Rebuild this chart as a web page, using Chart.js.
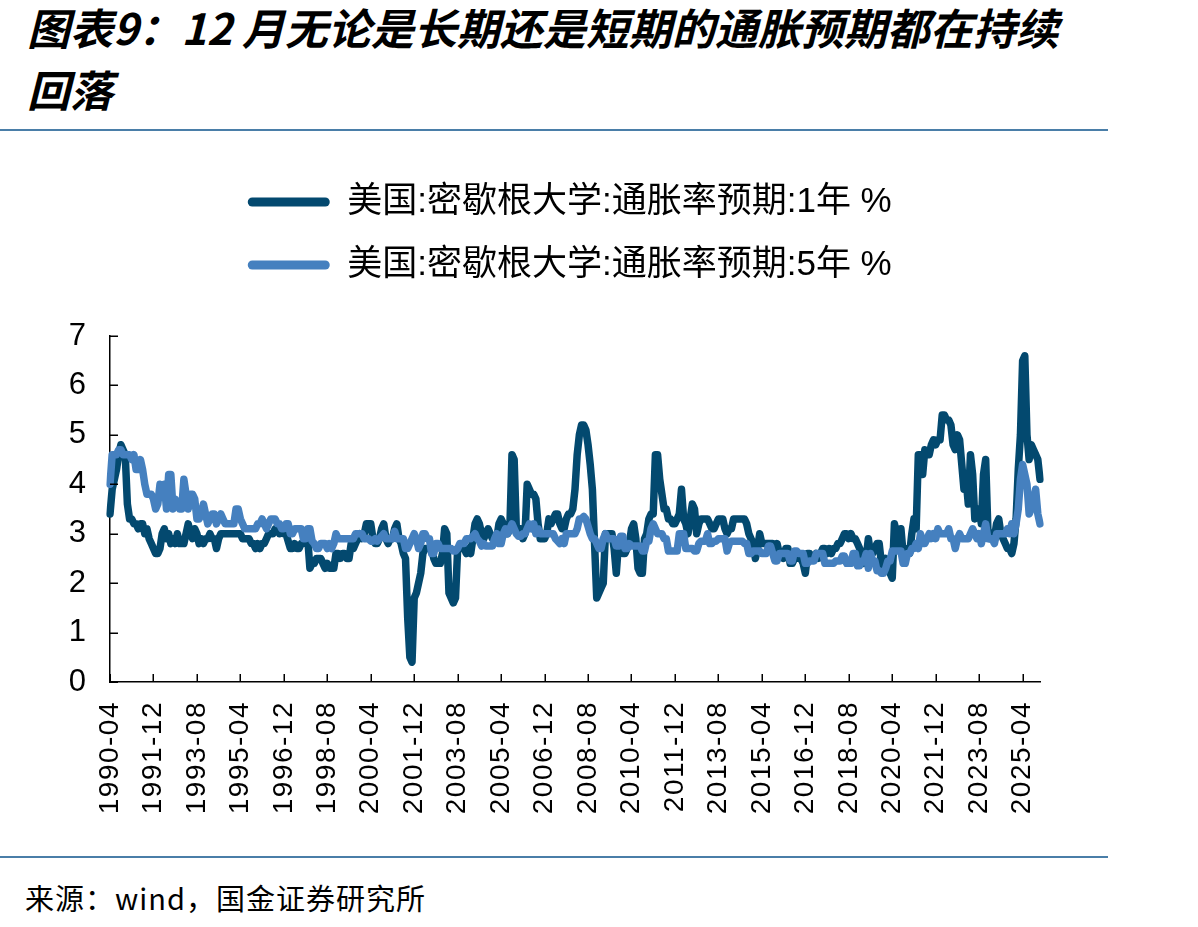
<!DOCTYPE html>
<html>
<head>
<meta charset="utf-8">
<script src="https://cdn.jsdelivr.net/npm/chart.js@4.4.1/dist/chart.umd.min.js"></script>
<style>
  html, body { margin: 0; padding: 0; background: #fff; }
  body { width: 1198px; height: 927px; position: relative; overflow: hidden; font-family: "Noto Sans CJK SC", sans-serif; }
  #title { position: absolute; left: 27px; top: -5px; font-size: 43px; line-height: 62px; font-weight: 700; font-style: italic; color: #000; white-space: nowrap; }
  .sep { position: absolute; left: 0; width: 1108px; height: 2px; background: #4a7ea8; }
  #footer { position: absolute; left: 25px; top: 879px; font-size: 29px; line-height: 36px; letter-spacing: 1px; color: #000; white-space: nowrap; }
  #wrap { position: absolute; left: 0; top: 140px; width: 1198px; height: 710px; }
</style>
</head>
<body>
<div id="title">图表9：12 月无论是长期还是短期的通胀预期都在持续<br>回落</div>
<div class="sep" style="top:129px"></div>
<div id="wrap"><canvas id="c"></canvas></div>
<div class="sep" style="top:856px"></div>
<div id="footer">来源：wind，国金证券研究所</div>
<script>
// ---- categories: monthly, 1990-04 .. 2025-12 ----
const START = [1990, 4];
const END = [2025, 12];
const MONTHS = [];
for (let y = START[0], m = START[1]; y < END[0] || (y === END[0] && m <= END[1]); ) {
  MONTHS.push(y + '-' + String(m).padStart(2, '0'));
  m++; if (m > 12) { m = 1; y++; }
}

// ---- tick labels shown on the x axis ----
const TICK_LABELS = ['1990-04','1991-12','1993-08','1995-04','1996-12','1998-08','2000-04','2001-12',
  '2003-08','2005-04','2006-12','2008-08','2010-04','2011-12','2013-08','2015-04','2016-12',
  '2018-08','2020-04','2021-12','2023-08','2025-04'];

// ---- 1-year inflation expectations (%), one row per year ----
const EXP_1Y = [
  3.4, 3.9, 4.1, 4.3, 4.6, 4.8, 4.7, 4.6, 3.6,                    // 1990 Apr-Dec
  3.3, 3.3, 3.2, 3.2, 3.1, 3.2, 3.2, 3.0, 3.1, 2.9, 2.8, 2.7,      // 1991
  2.6, 2.6, 2.7, 3.0, 3.1, 2.9, 3.0, 2.8, 2.9, 2.8, 3.0, 2.8,      // 1992
  2.8, 2.8, 3.0, 3.2, 3.0, 2.9, 3.1, 3.0, 2.8, 2.9, 2.8, 2.9,      // 1993
  2.9, 3.0, 2.9, 2.9, 2.7, 2.9, 3.0, 3.0, 3.0, 3.0, 3.0, 3.0,      // 1994
  3.0, 3.0, 3.0, 3.0, 2.9, 2.9, 2.9, 2.9, 2.8, 2.8, 2.7, 2.8,      // 1995
  2.7, 2.8, 2.8, 2.9, 3.0, 3.0, 3.0, 3.1, 3.1, 3.0, 3.1, 3.0,      // 1996
  3.0, 2.85, 2.7, 2.7, 2.8, 2.7, 2.7, 2.8, 2.8, 2.9, 2.9, 2.3,     // 1997
  2.4, 2.4, 2.5, 2.5, 2.5, 2.4, 2.3, 2.4, 2.3, 2.3, 2.3, 2.6,      // 1998
  2.6, 2.5, 2.6, 2.6, 2.5, 2.5, 2.8, 2.7, 2.8, 2.9, 3.0, 2.9,      // 1999
  3.0, 3.2, 3.2, 3.2, 2.9, 2.8, 2.8, 2.9, 3.1, 3.2, 2.9, 2.8,      // 2000
  2.9, 2.9, 3.1, 3.2, 2.9, 2.8, 2.6, 2.5, 1.3, 0.5, 0.4, 1.7,      // 2001
  1.8, 2.0, 2.2, 2.6, 2.7, 2.7, 2.7, 2.7, 2.5, 2.4, 2.4, 2.4,      // 2002
  2.6, 3.1, 3.0, 1.8, 1.7, 1.6, 1.7, 2.7, 2.7, 2.7, 2.7, 2.6,      // 2003
  2.7, 2.6, 2.9, 3.2, 3.3, 3.2, 3.0, 2.9, 3.0, 3.1, 3.0, 2.9,      // 2004
  2.9, 2.9, 3.2, 3.3, 3.2, 3.0, 3.0, 3.1, 4.6, 4.5, 3.1, 3.1,      // 2005
  3.1, 2.9, 3.0, 4.0, 3.9, 3.8, 3.8, 3.7, 3.2, 2.9, 2.9, 2.9,      // 2006
  3.0, 3.3, 3.2, 3.3, 3.4, 3.4, 3.2, 3.1, 3.1, 3.3, 3.4, 3.4,      // 2007
  3.5, 3.9, 4.6, 5.0, 5.2, 5.2, 5.1, 4.8, 4.4, 3.9, 2.8, 1.7,      // 2008
  1.8, 1.9, 2.0, 3.0, 3.0, 3.0, 3.0, 2.7, 2.2, 2.8, 2.9, 2.6,      // 2009
  2.6, 2.7, 2.8, 3.1, 3.2, 2.9, 2.3, 2.2, 2.2, 2.9, 3.0, 3.3,      // 2010
  3.4, 3.4, 4.6, 4.6, 4.1, 3.8, 3.5, 3.5, 3.3, 3.3, 3.2, 3.2,      // 2011
  3.3, 3.4, 3.9, 3.3, 3.2, 3.0, 3.3, 3.6, 3.5, 3.0, 3.2, 3.3,      // 2012
  3.3, 3.3, 3.3, 3.2, 3.1, 3.1, 3.2, 3.3, 3.3, 3.3, 3.1, 3.0,      // 2013
  3.1, 3.1, 3.3, 3.3, 3.3, 3.3, 3.3, 3.3, 3.2, 3.0, 2.9, 2.8,      // 2014
  2.5, 2.7, 3.0, 2.8, 2.8, 2.8, 2.8, 2.8, 2.8, 2.7, 2.8, 2.6,      // 2015
  2.6, 2.5, 2.7, 2.7, 2.4, 2.4, 2.5, 2.6, 2.5, 2.5, 2.4, 2.2,      // 2016
  2.6, 2.6, 2.5, 2.5, 2.6, 2.5, 2.6, 2.7, 2.7, 2.6, 2.7, 2.6,      // 2017
  2.7, 2.7, 2.8, 2.8, 2.9, 3.0, 3.0, 2.9, 3.0, 2.9, 2.9, 2.8,      // 2018
  2.7, 2.6, 2.4, 2.5, 2.9, 2.6, 2.6, 2.7, 2.8, 2.8, 2.4, 2.3,      // 2019
  2.5, 2.3, 2.2, 2.1, 3.2, 3.0, 2.7, 3.1, 2.6, 2.6, 2.7, 2.6,      // 2020
  3.0, 3.3, 3.1, 4.6, 4.6, 4.2, 4.7, 4.6, 4.6, 4.8, 4.9, 4.8,      // 2021
  4.9, 4.9, 5.4, 5.4, 5.3, 5.3, 5.2, 4.8, 4.7, 5.0, 4.9, 4.4,      // 2022
  3.9, 4.1, 3.6, 4.6, 4.2, 3.3, 3.4, 3.5, 3.2, 4.2, 4.5, 3.1,      // 2023
  2.9, 3.0, 2.9, 3.2, 3.3, 3.0, 2.9, 2.8, 2.7, 2.7, 2.6, 2.8,      // 2024
  3.3, 4.3, 5.0, 6.5, 6.6, 5.0, 4.5, 4.8, 4.7, 4.6, 4.5, 4.1       // 2025
];

// ---- 5-year inflation expectations (%), one row per year ----
const EXP_5Y = [
  4.0, 4.6, 4.6, 4.6, 4.7, 4.7, 4.6, 4.6, 4.6,                    // 1990 Apr-Dec
  4.6, 4.5, 4.6, 4.3, 4.3, 4.5, 4.3, 4.0, 3.8, 3.8, 3.8, 3.7,      // 1991
  3.5, 3.6, 4.0, 3.9, 4.0, 3.5, 4.2, 4.2, 3.5, 3.7, 3.6, 3.5,      // 1992
  3.5, 4.1, 3.8, 3.5, 3.8, 3.8, 3.7, 3.3, 3.3, 3.4, 3.6, 3.4,      // 1993
  3.2, 3.3, 3.4, 3.4, 3.2, 3.3, 3.4, 3.3, 3.2, 3.2, 3.2, 3.2,      // 1994
  3.2, 3.5, 3.5, 3.3, 3.2, 3.1, 3.1, 3.1, 3.1, 3.1, 3.1, 3.2,      // 1995
  3.2, 3.3, 3.2, 3.1, 3.2, 3.3, 3.3, 3.3, 3.2, 3.2, 3.1, 3.1,      // 1996
  3.2, 3.2, 3.0, 3.0, 3.1, 3.1, 3.1, 3.1, 2.9, 2.9, 3.1, 3.1,      // 1997
  2.85, 2.8, 2.7, 2.7, 2.8, 2.8, 2.8, 2.7, 2.8, 2.7, 2.8, 3.0,     // 1998
  2.9, 2.9, 2.9, 2.9, 2.9, 2.9, 2.9, 2.9, 3.0, 3.0, 3.0, 3.0,      // 1999
  2.9, 2.9, 2.9, 2.85, 2.85, 2.9, 2.85, 2.9, 2.95, 3.0, 2.9, 2.9,  // 2000
  2.9, 2.9, 3.05, 2.9, 2.9, 2.9, 2.9, 2.7, 2.7, 2.8, 2.9, 3.0,     // 2001
  2.9, 2.7, 2.8, 3.0, 3.0, 2.9, 2.9, 2.6, 2.6, 2.8, 2.8, 2.7,      // 2002
  2.7, 2.7, 2.7, 2.7, 2.7, 2.65, 2.65, 2.7, 2.8, 2.8, 2.8, 2.9,    // 2003
  2.9, 2.9, 2.95, 3.0, 2.9, 2.85, 2.75, 2.8, 2.75, 2.75, 2.75, 2.75, // 2004
  2.9, 3.0, 2.8, 2.8, 3.0, 3.1, 3.0, 3.1, 3.2, 3.1, 3.0, 2.95,     // 2005
  2.95, 3.0, 3.0, 3.1, 3.2, 3.1, 3.2, 3.0, 3.1, 3.0, 3.0, 3.0,     // 2006
  3.0, 3.0, 3.0, 3.0, 2.9, 2.85, 2.8, 2.9, 2.8, 3.0, 3.0, 3.0,     // 2007
  3.0, 3.0, 3.1, 3.3, 3.3, 3.35, 3.3, 3.15, 3.0, 2.9, 2.9, 2.8,    // 2008
  2.7, 2.7, 2.9, 3.0, 2.9, 2.9, 2.9, 2.9, 2.75, 2.75, 2.95, 2.95,  // 2009
  2.7, 2.7, 2.8, 2.75, 2.75, 2.75, 2.75, 2.75, 2.65, 2.65, 2.85, 2.85, // 2010
  3.1, 3.2, 3.1, 3.0, 3.0, 3.0, 2.9, 2.9, 2.65, 2.65, 2.65, 2.65,  // 2011
  2.65, 3.0, 3.0, 3.0, 2.7, 2.7, 2.7, 2.7, 2.65, 2.65, 2.8, 2.85,  // 2012
  2.85, 2.85, 3.0, 2.8, 2.8, 2.85, 2.85, 2.9, 2.9, 2.9, 2.9, 2.65, // 2013
  2.8, 2.85, 2.85, 2.85, 2.85, 2.85, 2.85, 2.8, 2.8, 2.6, 2.6, 2.65, // 2014
  2.65, 2.65, 2.65, 2.6, 2.6, 2.6, 2.75, 2.75, 2.6, 2.45, 2.45, 2.6, // 2015
  2.6, 2.6, 2.6, 2.6, 2.45, 2.45, 2.65, 2.65, 2.6, 2.6, 2.6, 2.4,  // 2016
  2.4, 2.45, 2.45, 2.45, 2.6, 2.6, 2.6, 2.6, 2.4, 2.4, 2.4, 2.4,   // 2017
  2.4, 2.45, 2.45, 2.45, 2.55, 2.55, 2.4, 2.4, 2.4, 2.6, 2.6, 2.35, // 2018
  2.35, 2.45, 2.45, 2.6, 2.3, 2.6, 2.45, 2.45, 2.25, 2.25, 2.2, 2.2, // 2019
  2.3, 2.45, 2.45, 2.65, 2.65, 2.65, 2.65, 2.65, 2.4, 2.4, 2.6, 2.6, // 2020
  2.7, 2.7, 2.8, 2.7, 3.0, 2.8, 2.8, 2.9, 3.0, 2.9, 3.0, 2.9,      // 2021
  3.1, 3.0, 3.0, 3.0, 3.0, 3.1, 2.9, 2.9, 2.7, 2.9, 3.0, 2.9,      // 2022
  2.9, 2.9, 2.9, 3.0, 3.1, 3.0, 2.9, 3.0, 2.8, 3.0, 3.2, 2.9,      // 2023
  2.9, 2.9, 2.8, 3.0, 3.0, 3.0, 3.0, 3.0, 3.1, 3.0, 3.2, 3.0,      // 2024
  3.2, 3.5, 4.1, 4.4, 4.2, 4.0, 3.4, 3.5, 3.7, 3.9, 3.4, 3.2       // 2025
];

const SERIES_NAMES = ['美国:密歇根大学:通胀率预期:1年 %', '美国:密歇根大学:通胀率预期:5年 %'];
const Y_MIN = 0, Y_MAX = 7, Y_STEP = 1;

const DARK = '#03496f';
const LIGHT = '#4580bf';
const AXIS_FONT = "'Liberation Sans', Arial, sans-serif";
const TICK_LEN = 8;

const legendGap = {
  id: 'legendGap',
  beforeInit(chart) {
    const orig = chart.legend.fit;
    chart.legend.fit = function () { orig.call(this); this.height += 43.5; };
  }
};

const innerTicks = {
  id: 'innerTicks',
  afterDatasetsDraw(chart) {
    const { ctx, chartArea } = chart;
    const x = chart.scales.x, y = chart.scales.y;
    ctx.save();
    ctx.strokeStyle = '#000';
    ctx.lineWidth = 1.5;
    ctx.beginPath();
    x.ticks.forEach((t, i) => {
      const px = Math.round(x.getPixelForTick(i)) + 0.25;
      ctx.moveTo(px, chartArea.bottom);
      ctx.lineTo(px, chartArea.bottom - TICK_LEN);
    });
    y.ticks.forEach((t, i) => {
      const py = Math.round(y.getPixelForTick(i)) + 0.25;
      ctx.moveTo(chartArea.left, py);
      ctx.lineTo(chartArea.left + TICK_LEN, py);
    });
    ctx.stroke();
    ctx.restore();
  }
};

// stretch the rotated date labels a little along their length like the original
function spacedLabels(scale) {
  if (scale._spaced) return;
  scale._spaced = true;
  const orig = scale.drawLabels;
  scale.drawLabels = function (area) {
    this.ctx.save();
    this.ctx.letterSpacing = '1.5px';
    orig.call(this, area);
    this.ctx.restore();
  };
}

new Chart(document.getElementById('c'), {
  type: 'line',
  data: {
    labels: MONTHS,
    datasets: [
      { label: SERIES_NAMES[0], data: EXP_1Y, borderColor: DARK, backgroundColor: DARK,
        borderWidth: 7.5, pointRadius: 0, tension: 0, borderJoinStyle: 'round', borderCapStyle: 'round', order: 1 },
      { label: SERIES_NAMES[1], data: EXP_5Y, borderColor: LIGHT, backgroundColor: LIGHT,
        borderWidth: 7.5, pointRadius: 0, tension: 0, borderJoinStyle: 'round', borderCapStyle: 'round', order: 0 }
    ]
  },
  options: {
    responsive: true,
    maintainAspectRatio: false,
    devicePixelRatio: 1,
    animation: false,
    layout: { padding: { top: 16.5, left: 0, right: 58.5, bottom: 0 } },
    plugins: {
      tooltip: { enabled: false },
      title: { display: false },
      legend: {
        position: 'top',
        align: 'center',
        labels: {
          boxWidth: 82,
          boxHeight: 9,
          useBorderRadius: true,
          borderRadius: 4.5,
          padding: 28,
          color: '#000',
          font: { size: 35, family: "'Liberation Sans', 'Noto Sans CJK SC', sans-serif" },
          sort: (a, b) => a.datasetIndex - b.datasetIndex,
          generateLabels(chart) {
            const items = Chart.defaults.plugins.legend.labels.generateLabels(chart);
            items.forEach(it => { it.fillStyle = it.strokeStyle; it.lineWidth = 0; });
            return items;
          }
        }
      }
    },
    scales: {
      x: {
        type: 'category',
        offset: false,
        grid: { display: false, drawTicks: false },
        border: { display: true, color: '#000', width: 1.5 },
        ticks: {
          autoSkip: false, maxRotation: 90, minRotation: 90,
          padding: 19, color: '#000',
          font: { size: 28, family: AXIS_FONT }
        },
        afterBuildTicks(scale) {
          scale.ticks = scale.ticks.filter(t => TICK_LABELS.includes(MONTHS[t.value]));
        },
        afterFit(scale) { scale.height = 168; spacedLabels(scale); }
      },
      y: {
        min: Y_MIN, max: Y_MAX,
        grid: { display: false, drawTicks: false },
        border: { display: true, color: '#000', width: 1.5 },
        ticks: {
          stepSize: Y_STEP, padding: 24, color: '#000',
          font: { size: 31, family: AXIS_FONT }
        },
        afterFit(scale) { scale.width = 110; }
      },
      yRightGap: {
        type: 'linear',
        position: 'right',
        display: true,
        grid: { display: false, drawTicks: false },
        border: { display: false },
        ticks: { display: false },
        afterFit(scale) { scale.width = 99.5; }
      }
    }
  },
  plugins: [legendGap, innerTicks]
});
</script>
</body>
</html>
